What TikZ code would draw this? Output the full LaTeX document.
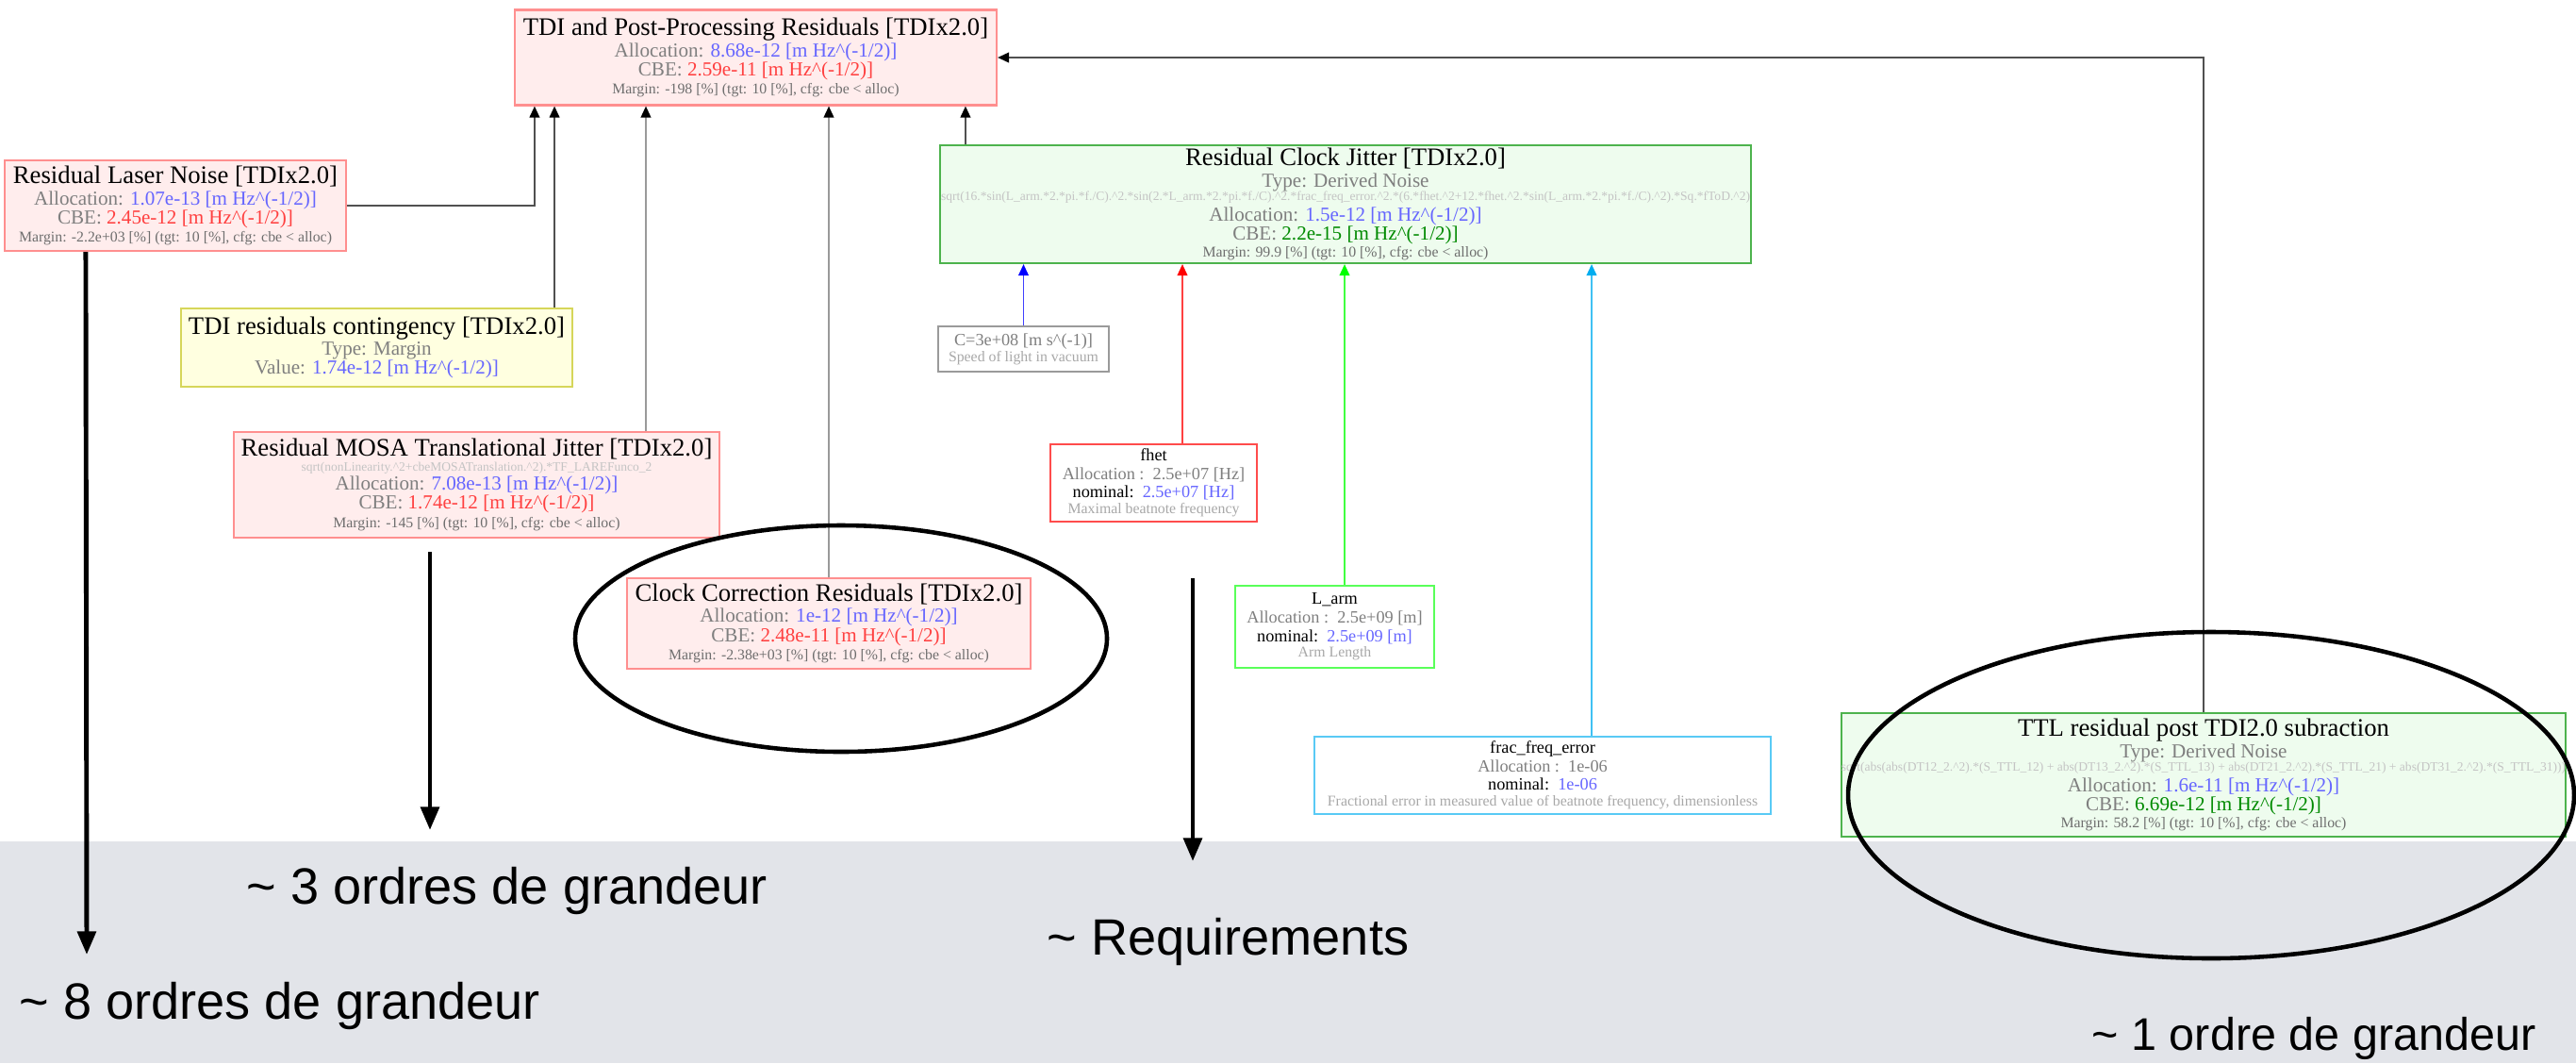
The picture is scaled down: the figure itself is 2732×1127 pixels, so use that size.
\documentclass[tikz,border=0pt]{standalone}
\usepackage{fontspec}
\setmainfont{Liberation Serif}
\newfontfamily\notefont{Liberation Sans}
\usetikzlibrary{%
  arrows.meta,
  calc
}

\definecolor{bandgray}{HTML}{E2E4E9}
\definecolor{labgray}{HTML}{7F7F7F}
\definecolor{mrggray}{HTML}{6E6E6E}
\definecolor{fmlgray}{HTML}{C4C4C4}
\definecolor{descgray}{HTML}{A8A8A8}
\definecolor{allocblue}{HTML}{6666FF}
\definecolor{cbered}{HTML}{FF4040}
\definecolor{cbegreen}{HTML}{008A00}
\definecolor{redfill}{HTML}{FFEDED}
\definecolor{redline}{HTML}{FF8F8F}
\definecolor{yelfill}{HTML}{FFFFE0}
\definecolor{yelline}{HTML}{D6D65A}
\definecolor{grnfill}{HTML}{EEFCEE}
\definecolor{grnline}{HTML}{4DB34D}
\definecolor{linkdark}{HTML}{505050}
\definecolor{linklight}{HTML}{9A9A9A}

\newcommand{\hdr}[1]{{\fontsize{7.6}{7}\selectfont\color{black}#1}}
\newcommand{\lbl}[1]{\textcolor{labgray}{#1}}
\newcommand{\mrg}[1]{{\fontsize{4.5}{4}\selectfont\color{mrggray}#1}}
\newcommand{\fml}[1]{{\fontsize{3.85}{3}\selectfont\color{fmlgray}#1}}
\newcommand{\dsc}[1]{{\fontsize{4.5}{4}\selectfont\color{descgray}#1}}
\newcommand{\hzunit}{[m Hz\textasciicircum(-1/2)]}

\tikzset{
  budget/.style={draw, line width=0.6pt, inner sep=0pt, align=center,
    font={\fontsize{6}{5.7}\selectfont\lineskiplimit=-20pt}},
  redbox/.style={budget, draw=redline, fill=redfill},
  yelbox/.style={budget, draw=yelline, fill=yelfill},
  grnbox/.style={budget, draw=grnline, fill=grnfill},
  parbox/.style={budget, fill=white,
    font={\fontsize{5.2}{5.6}\selectfont\lineskiplimit=-20pt}},
  link/.style={draw=linkdark, line width=0.55pt,
    -{Triangle[length=3.4pt,width=3pt,color=black]}},
  faint/.style={link, draw=linklight},
  feed/.style={draw=#1!75!white, line width=0.55pt,
    -{Triangle[length=3.4pt,width=3pt,color=#1]}},
  bigarrow/.style={line width=1.4pt, -{Triangle[length=7pt,width=5.5pt]}},
  ring/.style={line width=1.3pt},
  note/.style={font=\notefont\fontsize{15.4}{18}\selectfont, anchor=base west, inner sep=0pt}
}

\begin{document}
\begin{tikzpicture}[x=0.1mm, y=-0.1mm]
  \useasboundingbox (0,0) rectangle (2732,1127);
  \fill[bandgray] (0,892) rectangle (2732,1127);

  \node[redbox, minimum width=51.1mm, minimum height=10.1mm] (top) at (801.5,61) {%
    \hdr{TDI and Post-Processing Residuals [TDIx2.0]}\\[0.8pt]
    \lbl{Allocation:} \textcolor{allocblue}{8.68e-12 \hzunit}\\
    \lbl{CBE:} \textcolor{cbered}{2.59e-11 \hzunit}\\[-0.2pt]
    \mrg{Margin: -198 [\%] (tgt: 10 [\%], cfg: cbe < alloc)}};
  \node[redbox, minimum width=36.2mm, minimum height=9.6mm] (rln) at (186,218) {%
    \hdr{Residual Laser Noise [TDIx2.0]}\\[0.8pt]
    \lbl{Allocation:} \textcolor{allocblue}{1.07e-13 \hzunit}\\
    \lbl{CBE:} \textcolor{cbered}{2.45e-12 \hzunit}\\[-0.2pt]
    \mrg{Margin: -2.2e+03 [\%] (tgt: 10 [\%], cfg: cbe < alloc)}};
  \node[yelbox, minimum width=41.5mm, minimum height=8.3mm] (cont) at (399.5,368.5) {%
    \hdr{TDI residuals contingency [TDIx2.0]}\\[0.8pt]
    \lbl{Type: Margin}\\
    \lbl{Value:} \textcolor{allocblue}{1.74e-12 \hzunit}};
  \node[redbox, minimum width=51.5mm, minimum height=11.2mm] (mosa) at (505.5,514) {%
    \hdr{Residual MOSA Translational Jitter [TDIx2.0]}\\[-1.3pt]
    \fml{sqrt(nonLinearity.\textasciicircum2+cbeMOSATranslation.\textasciicircum2).*TF\_LAREFunco\_2}\\[0.1pt]
    \lbl{Allocation:} \textcolor{allocblue}{7.08e-13 \hzunit}\\
    \lbl{CBE:} \textcolor{cbered}{1.74e-12 \hzunit}\\[-0.2pt]
    \mrg{Margin: -145 [\%] (tgt: 10 [\%], cfg: cbe < alloc)}};
  \node[redbox, minimum width=42.8mm, minimum height=9.6mm] (ccr) at (879,661) {%
    \hdr{Clock Correction Residuals [TDIx2.0]}\\[0.6pt]
    \lbl{Allocation:} \textcolor{allocblue}{1e-12 \hzunit}\\
    \lbl{CBE:} \textcolor{cbered}{2.48e-11 \hzunit}\\[-0.2pt]
    \mrg{Margin: -2.38e+03 [\%] (tgt: 10 [\%], cfg: cbe < alloc)}};
  \node[grnbox, minimum width=86mm, minimum height=12.5mm] (rcj) at (1427,216.5) {%
    \hdr{Residual Clock Jitter [TDIx2.0]}\\[0.8pt]
    \lbl{Type: Derived Noise}\\[-1.7pt]
    \fml{sqrt(16.*sin(L\_arm.*2.*pi.*f./C).\textasciicircum2.*sin(2.*L\_arm.*2.*pi.*f./C).\textasciicircum2.*frac\_freq\_error.\textasciicircum2.*(6.*fhet.\textasciicircum2+12.*fhet.\textasciicircum2.*sin(L\_arm.*2.*pi.*f./C).\textasciicircum2).*Sq.*fToD.\textasciicircum2)}\\[0.6pt]
    \lbl{Allocation:} \textcolor{allocblue}{1.5e-12 \hzunit}\\
    \lbl{CBE:} \textcolor{cbegreen}{2.2e-15 \hzunit}\\[-0.6pt]
    \mrg{Margin: 99.9 [\%] (tgt: 10 [\%], cfg: cbe < alloc)}};
  \node[parbox, draw=linklight, minimum width=18.1mm, minimum height=4.8mm] (cbox) at (1085.5,370) {%
    \lbl{C=3e+08 [m s\textasciicircum(-1)]}\\[-0.8pt]
    \dsc{Speed of light in vacuum}};
  \node[parbox, draw=red!70!white, minimum width=21.9mm, minimum height=8.2mm] (fhet) at (1223.5,512) {%
    fhet\\
    \lbl{Allocation :\ \ 2.5e+07 [Hz]}\\
    nominal:\ \ \textcolor{allocblue}{2.5e+07 [Hz]}\\[-0.8pt]
    \dsc{Maximal beatnote frequency}};
  \node[parbox, draw=green!65!white, minimum width=21.1mm, minimum height=8.7mm] (larm) at (1415.5,664.5) {%
    L\_arm\\
    \lbl{Allocation :\ \ 2.5e+09 [m]}\\
    nominal:\ \ \textcolor{allocblue}{2.5e+09 [m]}\\[-0.8pt]
    \dsc{Arm Length}};
  \node[parbox, draw=cyan!65!white, minimum width=48.4mm, minimum height=8.2mm] (frac) at (1636,822) {%
    frac\_freq\_error\\
    \lbl{Allocation :\ \ 1e-06}\\
    nominal:\ \ \textcolor{allocblue}{1e-06}\\[-0.8pt]
    \dsc{Fractional error in measured value of beatnote frequency, dimensionless}};
  \node[grnbox, minimum width=76.8mm, minimum height=13.1mm] (ttl) at (2337,821.5) {%
    \hdr{TTL residual post TDI2.0 subraction}\\[0.8pt]
    \lbl{Type: Derived Noise}\\[-1.7pt]
    \fml{sqrt(abs(abs(DT12\_2.\textasciicircum2).*(S\_TTL\_12) + abs(DT13\_2.\textasciicircum2).*(S\_TTL\_13) + abs(DT21\_2.\textasciicircum2).*(S\_TTL\_21) + abs(DT31\_2.\textasciicircum2).*(S\_TTL\_31)))}\\[0.6pt]
    \lbl{Allocation:} \textcolor{allocblue}{1.6e-11 \hzunit}\\
    \lbl{CBE:} \textcolor{cbegreen}{6.69e-12 \hzunit}\\[-0.6pt]
    \mrg{Margin: 58.2 [\%] (tgt: 10 [\%], cfg: cbe < alloc)}};

  \draw[link] (rln.east) -| ([xshift=2.2mm]top.south west);
  \draw[link] ([xshift=-2mm]cont.north east) -- ([xshift=-2mm]cont.north east |- top.south);
  \draw[faint] ([xshift=17.95mm]mosa.north) -- ([xshift=17.95mm]mosa.north |- top.south);
  \draw[faint] (ccr.north) -- (ccr.north |- top.south);
  \draw[link] ([xshift=2.8mm]rcj.north west) -- ([xshift=2.8mm]rcj.north west |- top.south);
  \draw[link] (ttl.north) |- (top.east);

  \draw[feed=blue] (cbox.north) -- (cbox.north |- rcj.south);
  \draw[feed=red] ([xshift=3.05mm]fhet.north) -- ([xshift=3.05mm]fhet.north |- rcj.south);
  \draw[feed=green] ([xshift=1.05mm]larm.north) -- ([xshift=1.05mm]larm.north |- rcj.south);
  \draw[feed=cyan] ([xshift=5.2mm]frac.north) -- ([xshift=5.2mm]frac.north |- rcj.south);

  \draw[ring] (892,677) ellipse [x radius=28.2mm, y radius=12mm];
  \draw[ring] (2345,843) ellipse [x radius=38.5mm, y radius=17.3mm];

  \coordinate (tip8) at (92,1012);
  \coordinate (from3) at (456,585);
  \coordinate (tip3) at (456,880);
  \coordinate (fromreq) at (1265,613);
  \coordinate (tipreq) at (1265,913);
  \draw[bigarrow] ([xshift=8.7mm]rln.south west) -- (tip8);
  \draw[bigarrow] (from3) -- (tip3);
  \draw[bigarrow] (fromreq) -- (tipreq);

  \node[note] (ord3) at (261,958) {\textasciitilde{} 3 ordres de grandeur};
  \node[note] (req) at (1110,1012) {\textasciitilde{} Requirements};
  \node[note] (ord8) at (20,1080) {\textasciitilde{} 8 ordres de grandeur};
  \node[note, font=\notefont\fontsize{13.8}{17}\selectfont] (ord1) at (2218,1113) {\textasciitilde{} 1 ordre de grandeur};
\end{tikzpicture}
\end{document}
